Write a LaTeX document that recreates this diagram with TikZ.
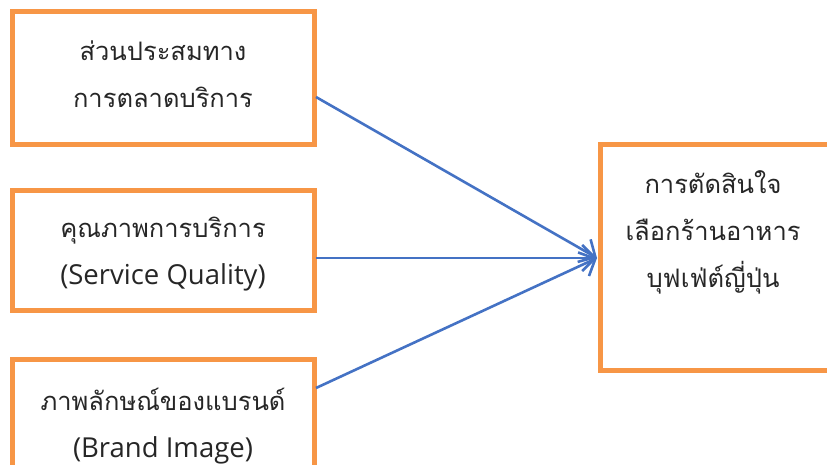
\documentclass[tikz,border=0pt]{standalone}
\usepackage{fontspec}
\setmainfont[Script=Thai]{Loma}
\newfontfamily\latinfont{Open Sans}
\usetikzlibrary{arrows.meta}
\definecolor{boxorange}{HTML}{F79646}
\definecolor{arrowblue}{HTML}{4472C4}
\newcommand{\lat}[1]{{\latinfont\fontsize{27.5}{47}\selectfont #1}}
\begin{document}
\begin{tikzpicture}[x=1pt,y=-1pt,
  boxstyle/.style={draw=boxorange,line width=5pt},
  txt/.style={font=\fontsize{25.5}{47}\selectfont,align=center,text=black!85},
  conn/.style={draw=arrowblue,line width=2.6pt,-{Straight Barb[length=13pt,width=26pt,line width=2.6pt]}}]
\useasboundingbox (0,0) rectangle (827,465);
\draw[boxstyle] (12.5,12) rectangle (314,144.5);
\draw[boxstyle] (12.5,190.5) rectangle (314,310);
\draw[boxstyle] (12.5,359) rectangle (314,480);
\draw[boxstyle] (600,144.5) rectangle (840,370.5);
\node[txt] (a) at (163,74) {ส่วนประสมทาง\\การตลาดบริการ};
\node[txt] (b) at (163,254) {คุณภาพการบริการ\\\lat{(Service Quality)}};
\node[txt] (c) at (163,426) {ภาพลักษณ์ของแบรนด์\\\lat{(Brand Image)}};
\node[txt] (d) at (713,232) {การตัดสินใจ\\เลือกร้านอาหาร\\บุฟเฟ่ต์ญี่ปุ่น};
\coordinate (a1) at (316,97);
\coordinate (b1) at (316,258);
\coordinate (c1) at (316,388);
\coordinate (t) at (597,258);
\draw[conn] (a1) -- (t);
\draw[conn] (b1) -- (t);
\draw[conn] (c1) -- (t);
\end{tikzpicture}
\end{document}
